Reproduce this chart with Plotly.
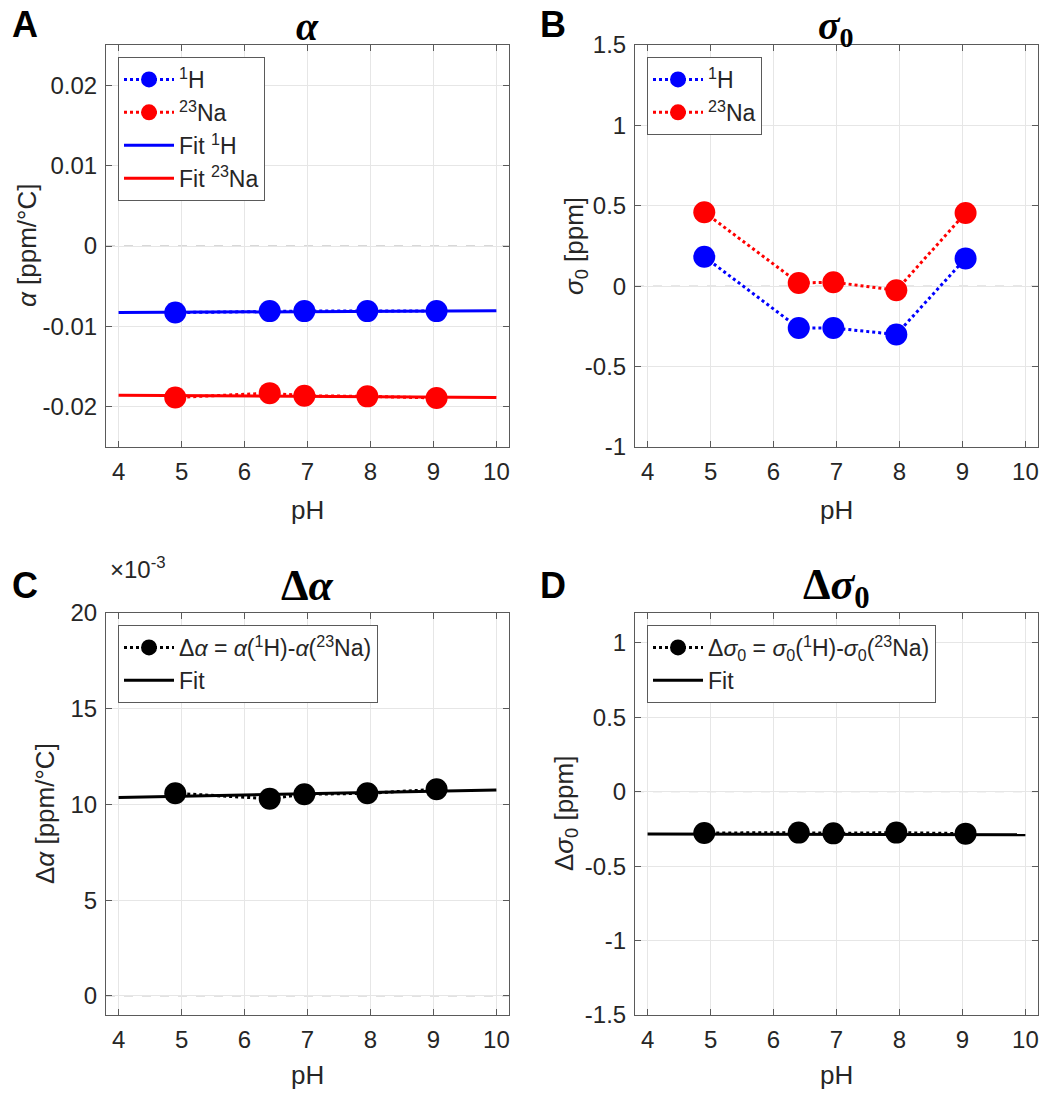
import plotly.graph_objects as go

# ---------------- data ----------------
pH = [4.9, 6.4, 6.95, 7.95, 9.05]
fit_pH = [4, 10]

alpha_H = [-0.00828, -0.0081, -0.0081, -0.0081, -0.0081]
alpha_Na = [-0.01884, -0.0183, -0.01863, -0.0187, -0.0189]
fit_alpha_H = [-0.00828, -0.00804]
fit_alpha_Na = [-0.01855, -0.01884]

sigma_H = [0.183, -0.26, -0.26, -0.30, 0.173]
sigma_Na = [0.46, 0.02, 0.025, -0.025, 0.455]

dalpha = [0.01058, 0.0103, 0.01053, 0.01058, 0.01079]
fit_dalpha = [0.01036, 0.01076]

dsigma = [-0.278, -0.275, -0.28, -0.275, -0.282]
fit_dsigma = [-0.285, -0.29]

x_ticks = [4, 5, 6, 7, 8, 9, 10]
yA_ticks = [-0.02, -0.01, 0, 0.01, 0.02]
yA_labels = ["-0.02", "-0.01", "0", "0.01", "0.02"]
yB_ticks = [-1, -0.5, 0, 0.5, 1, 1.5]
yB_labels = ["-1", "-0.5", "0", "0.5", "1", "1.5"]
yC_ticks = [0, 0.005, 0.01, 0.015, 0.02]
yC_labels = ["0", "5", "10", "15", "20"]
yD_ticks = [-1.5, -1, -0.5, 0, 0.5, 1]
yD_labels = ["-1.5", "-1", "-0.5", "0", "0.5", "1"]

# ---------------- style ----------------
BLUE = "#0000FF"
RED = "#FF0000"
BLACK = "#000000"
TXT = "#262626"
FONT = "Liberation Sans, Arial, sans-serif"
SERIF = "Liberation Serif, Times New Roman, serif"
W, H = 1057, 1100
TICK_SIZE = 24
LABEL_SIZE = 26
LEG_SIZE = 23

def px(x):
    return x / W

def py(y):
    return 1 - y / H

fig = go.Figure()

xdomA = [px(106), px(509)]
xdomB = [px(635), px(1038)]
ydomTop = [py(447), py(45)]
ydomBot = [py(1015), py(613)]

def pts(x, y, color, name, xa, ya, legend):
    fig.add_trace(go.Scatter(
        x=x, y=y, mode="lines+markers", name=name,
        line=dict(color=color, width=3, dash="dot"),
        marker=dict(color=color, size=22, symbol="circle"),
        xaxis=xa, yaxis=ya, legend=legend))

def fit(x, y, color, name, xa, ya, legend):
    fig.add_trace(go.Scatter(
        x=x, y=y, mode="lines", name=name,
        line=dict(color=color, width=3),
        xaxis=xa, yaxis=ya, legend=legend))

# Panel A
pts(pH, alpha_H, BLUE, "<sup>1</sup>H", "x", "y", "legend")
pts(pH, alpha_Na, RED, "<sup>23</sup>Na", "x", "y", "legend")
fit(fit_pH, fit_alpha_H, BLUE, "Fit <sup>1</sup>H", "x", "y", "legend")
fit(fit_pH, fit_alpha_Na, RED, "Fit <sup>23</sup>Na", "x", "y", "legend")

# Panel B
pts(pH, sigma_H, BLUE, "<sup>1</sup>H", "x2", "y2", "legend2")
pts(pH, sigma_Na, RED, "<sup>23</sup>Na", "x2", "y2", "legend2")

# Panel C
pts(pH, dalpha, BLACK, "Δ<i>α</i> = <i>α</i>(<sup>1</sup>H)-<i>α</i>(<sup>23</sup>Na)", "x3", "y3", "legend3")
fit(fit_pH, fit_dalpha, BLACK, "Fit", "x3", "y3", "legend3")

# Panel D
pts(pH, dsigma, BLACK, "Δ<i>σ</i><sub>0</sub> = <i>σ</i><sub>0</sub>(<sup>1</sup>H)-<i>σ</i><sub>0</sub>(<sup>23</sup>Na)", "x4", "y4", "legend4")
fit(fit_pH, fit_dsigma, BLACK, "Fit", "x4", "y4", "legend4")

axis_common = dict(
    showline=True, linecolor="#5a5a5a", linewidth=1, mirror="ticks",
    ticks="inside", ticklen=6, tickcolor="#5a5a5a",
    showgrid=True, gridcolor="#e6e6e6", gridwidth=1,
    zeroline=False, automargin=False,
    tickfont=dict(family=FONT, size=TICK_SIZE, color=TXT),
)

xax = dict(axis_common, range=[3.8, 10.2], tickvals=x_ticks,
           ticktext=[str(v) for v in x_ticks], ticklabelstandoff=3)

fig.update_layout(
    template="none",
    xaxis=dict(xax, domain=xdomA, anchor="y"),
    yaxis=dict(axis_common, domain=ydomTop, anchor="x", range=[-0.025, 0.025],
               tickvals=yA_ticks, ticktext=yA_labels, ticklabelstandoff=3),
    xaxis2=dict(xax, domain=xdomB, anchor="y2"),
    yaxis2=dict(axis_common, domain=ydomTop, anchor="x2", range=[-1, 1.5],
                tickvals=yB_ticks, ticktext=yB_labels, ticklabelstandoff=3),
    xaxis3=dict(xax, domain=xdomA, anchor="y3"),
    yaxis3=dict(axis_common, domain=ydomBot, anchor="x3", range=[-0.001, 0.020],
                tickvals=yC_ticks, ticktext=yC_labels, ticklabelstandoff=3),
    xaxis4=dict(xax, domain=xdomB, anchor="y4"),
    yaxis4=dict(axis_common, domain=ydomBot, anchor="x4", range=[-1.5, 1.2],
                tickvals=yD_ticks, ticktext=yD_labels, ticklabelstandoff=3),
    width=W, height=H,
    margin=dict(l=0, r=0, t=0, b=0, pad=0),
    paper_bgcolor="white", plot_bgcolor="white",
    font=dict(family=FONT, color=TXT, size=TICK_SIZE),
    showlegend=True,
)

leg_common = dict(bgcolor="white", bordercolor="#5a5a5a", borderwidth=1,
                  font=dict(family=FONT, size=LEG_SIZE, color=TXT),
                  xanchor="left", yanchor="top", tracegroupgap=0,
                  itemwidth=50)
fig.update_layout(
    legend=dict(leg_common, x=px(118), y=py(57)),
    legend2=dict(leg_common, x=px(647), y=py(57)),
    legend3=dict(leg_common, x=px(118), y=py(625)),
    legend4=dict(leg_common, x=px(647), y=py(625)),
)

# dashed zero reference lines
for xa, ya in [("x", "y"), ("x2", "y2"), ("x3", "y3"), ("x4", "y4")]:
    fig.add_shape(type="line", xref=f"{xa} domain", yref=ya, x0=0, x1=1, y0=0, y1=0,
                  line=dict(color="#b0b0b0", width=1, dash="dash"), layer="below")

def add_text(x, y, text, size, family=FONT, color=TXT, angle=0, xanchor="center", yanchor="middle"):
    fig.add_annotation(x=px(x), y=py(y), xref="paper", yref="paper", text=text,
                       showarrow=False, textangle=angle, xanchor=xanchor, yanchor=yanchor,
                       font=dict(family=family, size=size, color=color))

add_text(307, 26, "<b><i>α</i></b>", 40, SERIF, BLACK)
add_text(836, 28, "<b><i>σ</i><sub>0</sub></b>", 40, SERIF, BLACK)
add_text(307, 585, "<b>Δ<i>α</i></b>", 44, SERIF, BLACK)
add_text(836, 587, "<b>Δ<i>σ</i><sub>0</sub></b>", 44, SERIF, BLACK)

add_text(25, 24, "<b>A</b>", 36, FONT, BLACK)
add_text(553, 24, "<b>B</b>", 36, FONT, BLACK)
add_text(25, 585, "<b>C</b>", 36, FONT, BLACK)
add_text(553, 585, "<b>D</b>", 36, FONT, BLACK)

add_text(307, 510, "pH", LABEL_SIZE)
add_text(836, 510, "pH", LABEL_SIZE)
add_text(307, 1075, "pH", LABEL_SIZE)
add_text(836, 1075, "pH", LABEL_SIZE)

add_text(27, 246, "<i>α</i> [ppm/°C]", LABEL_SIZE, angle=-90)
add_text(575, 246, "<i>σ</i><sub>0</sub> [ppm]", LABEL_SIZE, angle=-90)
add_text(45, 814, "Δ<i>α</i> [ppm/°C]", LABEL_SIZE, angle=-90)
add_text(565, 814, "Δ<i>σ</i><sub>0</sub> [ppm]", LABEL_SIZE, angle=-90)

add_text(108, 568, "×10<sup>-3</sup>", TICK_SIZE, xanchor="left")

fig.write_html("out.html")
